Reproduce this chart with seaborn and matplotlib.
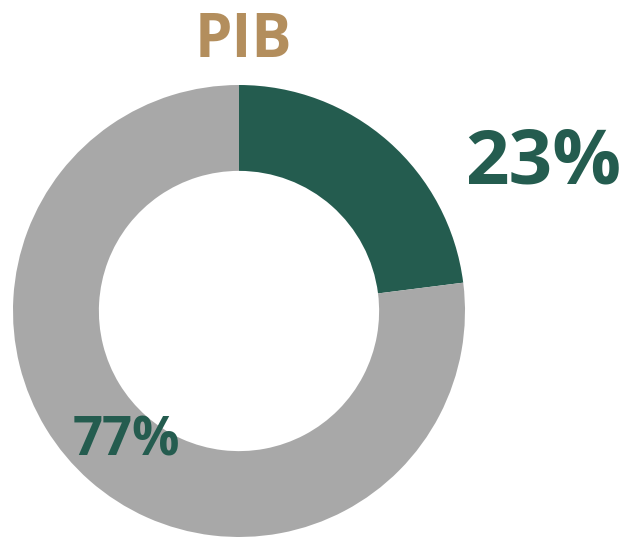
import matplotlib
matplotlib.use("Agg")
import matplotlib.pyplot as plt
import seaborn as sns

# Data
labels = ["PIB resto", "PIB sector"]
shares = [23, 77]
label_text = ["23%", "77%"]
title = "PIB"

green = "#245C4F"
gray = "#A8A8A8"
gold = "#B38E5D"

sns.set_theme(style="white")
plt.rcParams["font.family"] = ["Open Sans", "DejaVu Sans"]

fig = plt.figure(figsize=(6.34, 5.37), dpi=100)
ax = fig.add_axes([0, 0, 1, 1])

colors = sns.color_palette([green, gray])
ax.pie(
    shares,
    colors=colors,
    startangle=90,
    counterclock=False,
    radius=1,
    wedgeprops=dict(width=0.38, linewidth=0),
)

# center at pixel (239, 311), radius 226 px
r = 226
ax.set_xlim(-239 / r, (634 - 239) / r)
ax.set_ylim(-(537 - 311) / r, 311 / r)
ax.set_aspect("equal")
ax.axis("off")

ax.text((243 - 239) / r, (311 - 57) / r, title, color=gold,
        fontsize=43, fontweight="bold", ha="center", va="baseline")
ax.text((543 - 239) / r, (311 - 183) / r, label_text[0], color=green,
        fontsize=55, fontweight="bold", ha="center", va="baseline")
ax.text((126 - 239) / r, (311 - 455) / r, label_text[1], color=green,
        fontsize=38, fontweight="bold", ha="center", va="baseline")

fig.savefig("out.png", dpi=100, facecolor="white")
